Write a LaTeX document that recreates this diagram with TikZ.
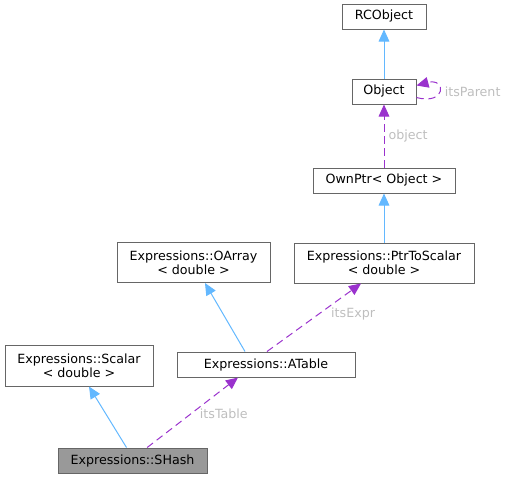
\documentclass[tikz,border=0pt]{standalone}
\usepackage{fontspec}
\setmainfont{DejaVu Sans}
\usetikzlibrary{arrows.meta,positioning}
\definecolor{edgeblue}{HTML}{63B8FF}
\definecolor{edgepurple}{HTML}{9A32CD}
\definecolor{labelgray}{HTML}{BEBEBE}
\definecolor{boxgray}{HTML}{666666}
\definecolor{focusfill}{HTML}{999999}

\begin{document}
\begin{tikzpicture}[
    x=0.75pt, y=-0.75pt,
    every node/.style={font=\fontsize{9.5}{10.5}\selectfont},
    cls/.style={draw=boxgray, line width=0.75pt, fill=white, align=center, inner sep=0pt, minimum height=18.75pt},
    cls2/.style={cls, minimum height=30pt},
    focus/.style={cls, fill=focusfill},
    inherit/.style={-{Triangle[length=9pt, width=8pt]}, color=edgeblue, line width=0.75pt},
    usage/.style={-{Triangle[length=9pt, width=8pt]}, color=edgepurple, line width=0.75pt, dash pattern=on 5.5pt off 3.5pt},
    role/.style={text=labelgray, inner sep=1pt}
]
\useasboundingbox (0,0) rectangle (507,479);
\node[cls2, minimum width=135pt] (ptrscalar) at (384,263) {Expressions::PtrToScalar\\< double >};
\node[cls, minimum width=106.5pt, above=36.75pt of ptrscalar] (ownptr) {OwnPtr< Object >};
\node[cls, minimum width=48pt, above=47.25pt of ownptr] (object) {Object};
\node[cls, minimum width=63pt, above=36.75pt of object] (rcobject) {RCObject};
\node[cls2, minimum width=114.75pt] (oarray) at (193.5,262.5) {Expressions::OArray\\< double >};
\node[cls, minimum width=133.5pt] (atable) at (266,364.5) {Expressions::ATable};
\node[cls2, minimum width=111pt, minimum height=30.75pt] (scalar) at (79,365.5) {Expressions::Scalar\\< double >};
\node[focus, minimum width=111.75pt] (shash) at (132.5,460.5) {Expressions::SHash};
\draw[inherit] (object) -- (rcobject);
\draw[usage] ([yshift=-4.5pt]object.east) .. controls +(30,8) and +(30,-8) .. node[role, right=3pt] {itsParent} ([yshift=4.5pt]object.east);
\draw[usage] (ownptr) -- node[role, right=2pt] {object} (object);
\draw[inherit] (ptrscalar) -- (ownptr);
\draw[inherit] ([xshift=-15.75pt]atable.north) -- ([xshift=8.6pt]oarray.south);
\draw[usage] ([xshift=0.75pt]atable.north) -- node[role, pos=0.55, right=8pt] {itsExpr} ([xshift=-17.25pt]ptrscalar.south);
\draw[inherit] ([xshift=-4.5pt]shash.north) -- ([xshift=7.5pt]scalar.south);
\draw[usage] ([xshift=11pt]shash.north) -- node[role, pos=0.48, right=5.5pt] {itsTable} ([xshift=-21pt]atable.south);
\end{tikzpicture}
\end{document}
